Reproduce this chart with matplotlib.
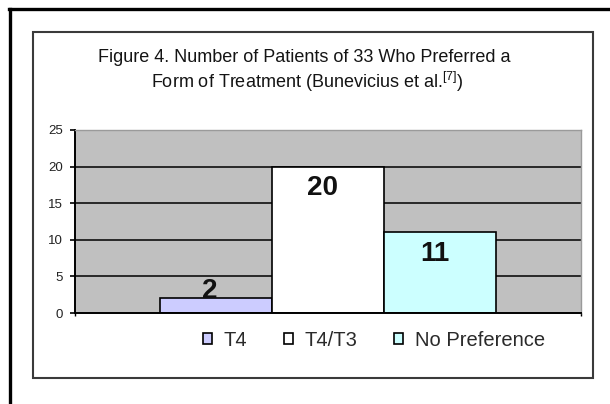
import matplotlib
matplotlib.use("Agg")
import matplotlib.pyplot as plt
from matplotlib.lines import Line2D
from matplotlib.patches import Rectangle

plt.rcParams['font.family'] = ['Liberation Sans', 'DejaVu Sans']
plt.rcParams['mathtext.fontset'] = 'custom'
plt.rcParams['mathtext.rm'] = 'Liberation Sans'

# ---- data ----
series = ["T4", "T4/T3", "No Preference"]
values = [2, 20, 11]
colors = ["#ccccff", "#ffffff", "#ccffff"]
yticks = [0, 5, 10, 15, 20, 25]
title_line1 = "Figure 4. Number of Patients of 33 Who Preferred a"
title_line2 = r"Form of Treatment (Bunevicius et al.$^{\mathrm{[7]}}$)"

W, H = 610, 404
fig = plt.figure(figsize=(W / 100, H / 100), dpi=100)
fig.patch.set_facecolor("white")

def fx(px):
    return px / W

def fy(py):
    return 1 - py / H

# outer frame (left and top visible)
fig.add_artist(Line2D([fx(9.5), fx(9.5)], [fy(8.5), fy(420)], color="black", lw=2.4,
                      transform=fig.transFigure))
fig.add_artist(Line2D([fx(8.5), fx(620)], [fy(8.5), fy(8.5)], color="black", lw=2.4,
                      transform=fig.transFigure))

# inner chart box
fig.add_artist(Rectangle((fx(33), fy(378)), fx(593) - fx(33), fy(32) - fy(378),
                         fill=False, edgecolor="#3a3a3a", lw=1.5, transform=fig.transFigure))

# title
fig.text(fx(304), fy(57), title_line1, ha="center", va="center", fontsize=13, color="#141414")
fig.text(fx(307), fy(82), title_line2, ha="center", va="center", fontsize=13, color="#141414")

# plot area
left, right, top, bottom = 75, 581, 130, 313
ax = fig.add_axes([fx(left), fy(bottom), fx(right) - fx(left), fy(top) - fy(bottom)])
ax.set_facecolor("#c0c0c0")
ax.set_xlim(-0.5, 0.5)
ax.set_ylim(0, 25)

width = 0.222
offsets = [(i - (len(values) - 1) / 2) * width for i in range(len(values))]

for y in yticks[1:-1]:
    ax.axhline(y, color="black", lw=1.1, zorder=1)

for off, v, c, name in zip(offsets, values, colors, series):
    ax.bar(off, v, width=width, color=c, edgecolor="black", lw=1.2, zorder=2, label=name)
    dy = 0.5 if v < 5 else -20.5
    ax.annotate(str(v), xy=(off, v), xytext=(-4, dy), textcoords="offset points",
                ha="center", va="baseline", fontsize=20, fontweight="bold", color="#111111",
                zorder=3)

ax.set_yticks(yticks)
ax.set_yticklabels([str(t) for t in yticks])
ax.tick_params(axis="y", direction="out", length=3.8, width=1.2, pad=5,
               labelsize=9.5, labelcolor="#222222", color="black")
ax.set_xticks([-0.5, 0.5])
ax.set_xticklabels([])
ax.tick_params(axis="x", direction="out", length=2.5, width=1.0, color="black")

for s in ["top", "right"]:
    ax.spines[s].set_color("#9a9a9a")
    ax.spines[s].set_linewidth(1.0)
for s in ["left", "bottom"]:
    ax.spines[s].set_color("black")
    ax.spines[s].set_linewidth(1.4)

leg = fig.legend(loc="center", bbox_to_anchor=(fx(374), fy(340)), ncol=3, frameon=False,
                 fontsize=14.5, handlelength=0.45, handleheight=0.45, handletextpad=0.6,
                 columnspacing=1.8, borderpad=0)
for t in leg.get_texts():
    t.set_color("#2a2a2a")

fig.savefig("out.png", dpi=100)
